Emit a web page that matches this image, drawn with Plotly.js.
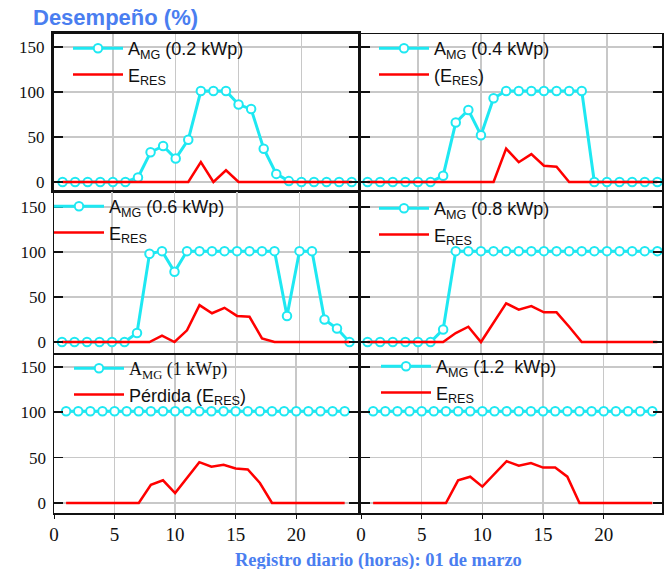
<!DOCTYPE html>
<html><head><meta charset="utf-8">
<script src="https://cdn.plot.ly/plotly-3.0.1.min.js"></script>
<style>html,body{margin:0;padding:0;background:#fff}</style>
</head><body><div id="chart" style="width:668px;height:569px"></div>
<script>
const hours = [1,2,3,4,5,6,7,8,9,10,11,12,13,14,15,16,17,18,19,20,21,22,23,24];
const amg02 = [0,0,0,0,0,0,5,33,40,26,47,101,101,101,86,81,37,9,1,0,0,0,0,0];
const eres02 = [0,0,0,0,0,0,0,0,0,0,0,22,0,13,0,0,0,0,0,0,0,0,0,0];
const amg04 = [0,0,0,0,0,0,7,66,80,52,93,101,101,101,101,101,101,101,0,0,0,0,0,0];
const eres04 = [0,0,0,0,0,0,0,0,0,0,0,37,22,31,18,17,0,0,0,0,0,0,0,0];
const amg06 = [0,0,0,0,0,0,10,98,101,78,101,101,101,101,101,101,101,101,29,101,101,25,15,0];
const eres06 = [0,0,0,0,0,0,0,0,7,0,13,41,32,38,29,28,4,0,0,0,0,0,0,0];
const amg08 = [0,0,0,0,0,0,14,101,101,101,101,101,101,101,101,101,101,101,101,101,101,101,101,101];
const eres08 = [0,0,0,0,0,0,0,10,17,0,21,43,36,40,33,33,17,0,0,0,0,0,0,0];
const amg10 = [101,101,101,101,101,101,101,101,101,101,101,101,101,101,101,101,101,101,101,101,101,101,101,101];
const eres10 = [0,0,0,0,0,0,0,20,25,11,28,45,40,42,38,37,22,0,0,0,0,0,0,0];
const amg12 = [101,101,101,101,101,101,101,101,101,101,101,101,101,101,101,101,101,101,101,101,101,101,101,101];
const eres12 = [0,0,0,0,0,0,0,25,29,18,32,46,41,44,39,39,29,0,0,0,0,0,0,0];

const amgNames = ['A<sub>MG</sub> (0.2 kWp)','A<sub>MG</sub> (0.4 kWp)','A<sub>MG</sub> (0.6 kWp)','A<sub>MG</sub> (0.8 kWp)',
  '<span style="font-family:Liberation Serif">A<sub>MG</sub> (1 kWp)</span>','A<sub>MG</sub> (1.2  kWp)'];
const eresNames = ['E<sub>RES</sub>','(E<sub>RES</sub>)','E<sub>RES</sub>','E<sub>RES</sub>','Pérdida (E<sub>RES</sub>)','E<sub>RES</sub>'];
const yTicks = [0,50,100,150];
const xTicks = [0,5,10,15,20];
const xTickText = ['0','5','10','15','20'];

const amgSeries = [amg02,amg04,amg06,amg08,amg10,amg12];
const eresSeries = [eres02,eres04,eres06,eres08,eres10,eres12];

const W = 668, H = 569;
const cyan = 'rgb(30,232,242)';
const red = '#FF0000';

// panel geometry (pixels)
const colX = [[54,358],[361,662]];
const rowY = [[34,190],[192,353],[355,513]];
const xRanges = [[0.32,24.5],[0.48,24.37],[0.36,24.68],[0.48,24.37],[0,25.1],[0,24.8]];
const yRanges = [[-8.9,164.4],[-8.9,164.4],[-12.2,166.7],[-12.2,166.7],[-11,163],[-11,163]];
const legendPos = [[68,30],[374,30],[49,188],[374,190],[69,350],[376,348]];

const traces = [];
const layout = {
  width: W, height: H,
  margin: {l:0,r:0,t:0,b:0},
  paper_bgcolor: '#fff', plot_bgcolor: '#fff',
  showlegend: true,
  title: {text: '<b>Desempeño (%)</b>', x: 33/W, xanchor: 'left', xref: 'paper', y: 1-17/H, yanchor: 'middle', yref: 'paper',
    font: {family: 'Liberation Sans, Arial', size: 22, color: '#4A7EF0'}},
  annotations: [{text: '<b>Registro diario (horas): 01 de marzo</b>', xref: 'paper', yref: 'paper',
    x: 379/W, y: 1-560/H, xanchor: 'center', yanchor: 'middle', showarrow: false,
    font: {family: 'Liberation Serif, Times New Roman', size: 18.5, color: '#4A7EF0'}}]
};

for (let i = 0; i < 6; i++) {
  const col = i % 2, row = Math.floor(i / 2);
  const sfx = i === 0 ? '' : String(i + 1);
  const lg = i === 0 ? 'legend' : 'legend' + (i + 1);
  traces.push({x: hours, y: amgSeries[i], type: 'scatter', mode: 'lines+markers', name: amgNames[i],
    xaxis: 'x' + sfx, yaxis: 'y' + sfx, legend: lg,
    line: {color: cyan, width: 3},
    marker: {symbol: 'circle', size: 8.5, color: '#fff', line: {color: cyan, width: 2}}});
  traces.push({x: hours, y: eresSeries[i], type: 'scatter', mode: 'lines', name: eresNames[i],
    xaxis: 'x' + sfx, yaxis: 'y' + sfx, legend: lg,
    line: {color: red, width: 2.5}});
  const lw = i === 0 ? 3 : 1.5;
  const bottom = row === 2;
  layout['xaxis' + sfx] = {
    domain: [colX[col][0]/W, colX[col][1]/W], range: xRanges[i], anchor: 'y' + sfx,
    tickvals: xTicks, ticktext: xTickText, showticklabels: bottom,
    ticks: bottom ? 'outside' : '', ticklen: 4, tickcolor: '#111', ticklabelstandoff: 0,
    tickfont: {family: 'Liberation Serif, Times New Roman', size: 19, color: '#111'},
    showgrid: true, gridcolor: '#c8c8c8', gridwidth: 1.5, zeroline: false,
    showline: true, mirror: true, linecolor: '#111', linewidth: lw, automargin: false, fixedrange: true
  };
  layout['yaxis' + sfx] = {
    domain: [1 - rowY[row][1]/H, 1 - rowY[row][0]/H], range: yRanges[i], anchor: 'x' + sfx,
    tickvals: yTicks, showticklabels: col === 0,
    ticks: 'inside', ticklen: 9, tickcolor: '#111', tickwidth: 1.5, ticklabelstandoff: 3,
    tickfont: {family: 'Liberation Serif, Times New Roman', size: 17, color: '#111'},
    showgrid: true, gridcolor: '#c8c8c8', gridwidth: 1.5, zeroline: false,
    showline: true, mirror: 'ticks', linecolor: '#111', linewidth: lw, automargin: false, fixedrange: true
  };
  layout[lg] = {
    x: legendPos[i][0]/W, y: 1 - legendPos[i][1]/H, xanchor: 'left', yanchor: 'top',
    xref: 'paper', yref: 'paper', itemwidth: 50,
    bgcolor: 'rgba(0,0,0,0)', borderwidth: 0, tracegroupgap: 0,
    font: {family: 'Liberation Sans, Arial', size: 18, color: '#111'}
  };
}

Plotly.newPlot('chart', traces, layout, {displayModeBar: false, staticPlot: true});
</script>
</body></html>
